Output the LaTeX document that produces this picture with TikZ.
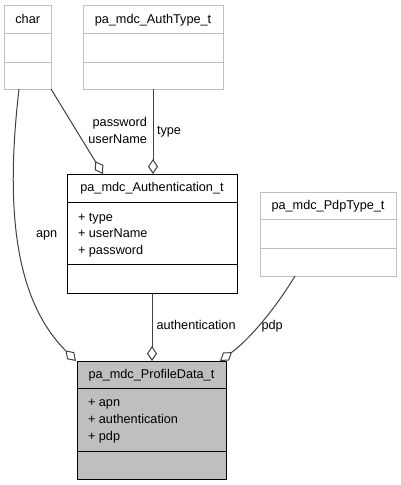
\documentclass[tikz,border=0pt]{standalone}
\usepackage{fontspec}
\setmainfont{Liberation Sans}
\usetikzlibrary{arrows.meta}
\definecolor{boxgray}{HTML}{BFBFBF}
\definecolor{edgegray}{HTML}{404040}
\begin{document}
\begin{tikzpicture}[x=1pt,y=-1pt,
  every node/.style={font=\fontsize{12.7}{15}\selectfont, inner sep=0pt, outer sep=0pt},
  ghost/.style={draw=boxgray, fill=white, line width=1pt, rectangle, anchor=north west},
  cls/.style={draw=black, fill=white, line width=1pt, rectangle, anchor=north west},
  focus/.style={draw=black, fill=boxgray, line width=1pt, rectangle, anchor=north west},
  ttl/.style={anchor=base},
  mem/.style={anchor=base west},
  lblw/.style={anchor=base west},
  lble/.style={anchor=base east},
  gline/.style={draw=boxgray, line width=1pt},
  bline/.style={draw=black, line width=1pt},
  edge/.style={draw=edgegray, line width=1pt, -{Diamond[open,length=15pt,width=10pt]}},
]
\useasboundingbox (0,0) rectangle (401,485);

% boxes
\node[ghost, minimum width=46.5pt, minimum height=84pt] (char) at (4.5,5) {};
\node[ghost, minimum width=140pt, minimum height=84pt] (authtype) at (83,5) {};
\node[cls, minimum width=170pt, minimum height=119pt] (auth) at (67,174) {};
\node[focus, minimum width=149pt, minimum height=118pt] (pd) at (77,361) {};
\node[ghost, minimum width=136pt, minimum height=84pt] (pdptype) at (260,192) {};

% dividers
\draw[gline] ([yshift=-28pt]char.north west) -- ([yshift=-28pt]char.north east);
\draw[gline] ([yshift=-57pt]char.north west) -- ([yshift=-57pt]char.north east);
\draw[gline] ([yshift=-28pt]authtype.north west) -- ([yshift=-28pt]authtype.north east);
\draw[gline] ([yshift=-57pt]authtype.north west) -- ([yshift=-57pt]authtype.north east);
\draw[gline] ([yshift=-27pt]pdptype.north west) -- ([yshift=-27pt]pdptype.north east);
\draw[gline] ([yshift=-56pt]pdptype.north west) -- ([yshift=-56pt]pdptype.north east);
\draw[bline] ([yshift=-28pt]auth.north west) -- ([yshift=-28pt]auth.north east);
\draw[bline] ([yshift=-90pt]auth.north west) -- ([yshift=-90pt]auth.north east);
\draw[bline] ([yshift=-27pt]pd.north west) -- ([yshift=-27pt]pd.north east);
\draw[bline] ([yshift=-90pt]pd.north west) -- ([yshift=-90pt]pd.north east);

% titles
\node[ttl] (chart) at (27.75,23) {char};
\node[ttl] (authtypet) at (153,23) {pa\_mdc\_AuthType\_t};
\node[ttl] (autht) at (152,191) {pa\_mdc\_Authentication\_t};
\node[ttl] (pdt) at (151.5,378) {pa\_mdc\_ProfileData\_t};
\node[ttl] (pdptypet) at (328,209.3) {pa\_mdc\_PdpType\_t};

% members
\node[mem] (m1) at (78,221) {+ type};
\node[mem] (m2) at (78,237.7) {+ userName};
\node[mem] (m3) at (78,254.5) {+ password};
\node[mem] (m4) at (88,406) {+ apn};
\node[mem] (m5) at (88,423) {+ authentication};
\node[mem] (m6) at (88,440) {+ pdp};

% edges
\draw[edge] (char.south east) -- ([xshift=36pt]auth.north west);
\draw[edge] (authtype.south) -- (authtype.south |- auth.north);
\draw[edge] (auth.south) -- (auth.south |- pd.north);
\draw[edge] ([xshift=14.5pt]char.south west) .. controls (5,210) and (15,300) .. ([xshift=-1pt]pd.north west);
\draw[edge] ([xshift=-33pt]pdptype.south) .. controls (282,298) and (255,335) .. ([xshift=-6pt]pd.north east);

% edge labels
\node[lble] (lpw) at (147,126.7) {password};
\node[lble] (lun) at (147,143.3) {userName};
\node[lblw] (lty) at (157,134) {type};
\node[lblw] (lapn) at (36,237) {apn};
\node[lblw] (lauth) at (156.5,329) {authentication};
\node[lblw] (lpdp) at (261.5,329) {pdp};
\end{tikzpicture}
\end{document}
